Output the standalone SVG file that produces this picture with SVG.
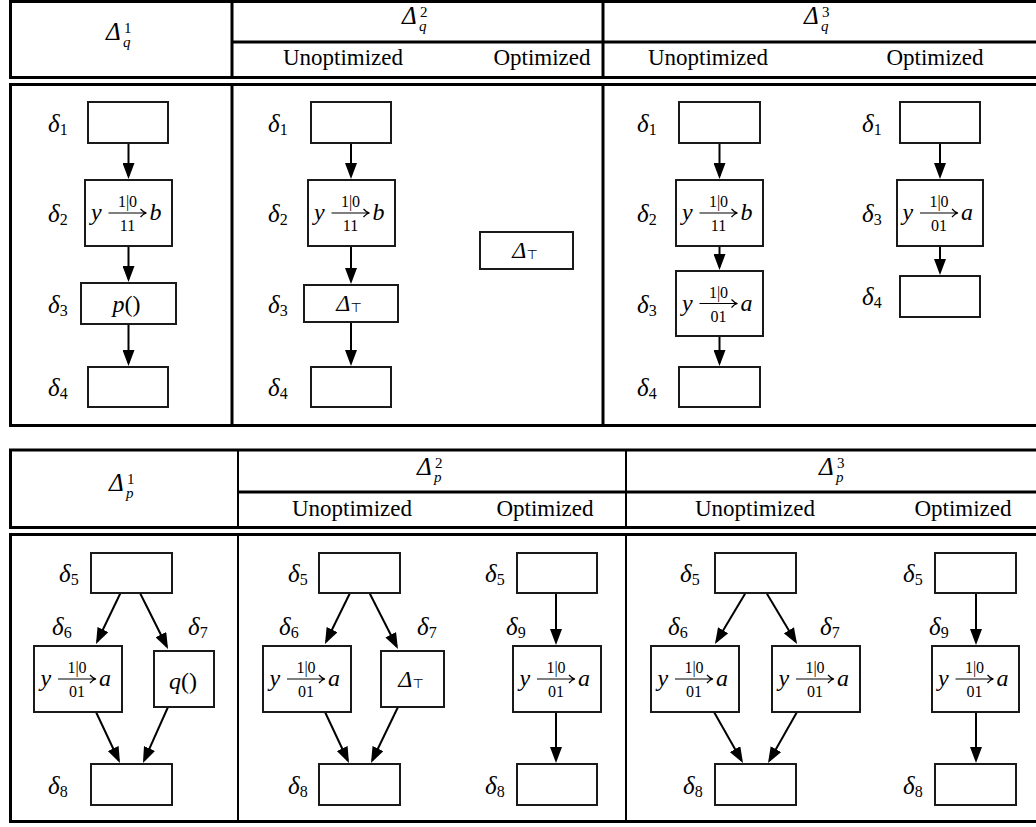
<svg xmlns="http://www.w3.org/2000/svg" xmlns:xlink="http://www.w3.org/1999/xlink" width="1036" height="827" viewBox="0 0 1036 827">
  <style>
    .rule { stroke: #000; stroke-width: 3; fill: none; }
    .rule-thin { stroke: #000; stroke-width: 2; fill: none; }
    .box { fill: #fff; stroke: #1a1a1a; stroke-width: 2; }
    .edge { stroke: #000; stroke-width: 2; fill: none; marker-end: url(#ah); }
    .farrow { stroke: #000; stroke-width: 1.2; fill: none; }
    .txt { font-family: "Liberation Serif", serif; font-size: 23px; fill: #000; }
    .m { font-family: "Liberation Serif", serif; font-style: italic; font-size: 24px; fill: #000; }
    .dl { font-family: "Liberation Serif", serif; font-style: italic; font-size: 25px; fill: #000; }
    .hd { font-family: "Liberation Serif", serif; font-style: italic; font-size: 25px; fill: #000; }
    .sp { font-style: normal; font-size: 15px; }
    .sb { font-style: italic; font-size: 15px; }
    .lab { font-family: "Liberation Serif", serif; font-size: 16px; fill: #000; text-anchor: middle; }
    .sub { font-style: normal; font-size: 16px; }
    .top { font-family: "DejaVu Sans", sans-serif; font-style: normal; font-size: 13px; }
    .mid { text-anchor: middle; }
  </style>
  <defs>
    <marker id="ah" markerUnits="userSpaceOnUse" markerWidth="16" markerHeight="12" refX="13" refY="6" orient="auto">
      <path d="M0,0 L16,6 L0,12 Z" fill="#000"/>
    </marker>
    <!-- labelled arrow used inside transfer nodes -->
    <path id="farrow" class="farrow" d="M-20,0 H17.5 M12,-4 Q15,-0.6 18,0 Q15,0.6 12,4"/>
  </defs>

  <!-- ===== upper table: q ===== -->
  <g id="table-q">
    <line class="rule" x1="9" y1="1.5" x2="1036" y2="1.5"/>
    <line class="rule" x1="232" y1="42" x2="1036" y2="42"/>
    <line class="rule" x1="9" y1="77.5" x2="1036" y2="77.5"/>
    <line class="rule" x1="9" y1="84.5" x2="1036" y2="84.5"/>
    <line class="rule" x1="9" y1="425.5" x2="1036" y2="425.5"/>
    <line class="rule" x1="10.5" y1="0" x2="10.5" y2="77.5"/>
    <line class="rule" x1="10.5" y1="84.5" x2="10.5" y2="425.5"/>
    <line class="rule" x1="232" y1="0" x2="232" y2="77.5"/>
    <line class="rule" x1="232" y1="84.5" x2="232" y2="425.5"/>
    <line class="rule" x1="603" y1="0" x2="603" y2="77.5"/>
    <line class="rule" x1="603" y1="84.5" x2="603" y2="425.5"/>

    <text class="hd" x="106" y="40">Δ<tspan class="sp" x="124" y="33">1</tspan><tspan class="sb" x="123" y="47">q</tspan></text>
    <text class="hd" x="402" y="24">Δ<tspan class="sp" x="420" y="17">2</tspan><tspan class="sb" x="419" y="31">q</tspan></text>
    <text class="hd" x="804" y="24">Δ<tspan class="sp" x="822" y="17">3</tspan><tspan class="sb" x="821" y="31">q</tspan></text>

    <text class="txt mid" x="343" y="65">Unoptimized</text>
    <text class="txt mid" x="542" y="65">Optimized</text>
    <text class="txt mid" x="708" y="65">Unoptimized</text>
    <text class="txt mid" x="935" y="65">Optimized</text>
  </g>

  <!-- ===== lower table: p ===== -->
  <g id="table-p">
    <line class="rule" x1="9" y1="450" x2="1036" y2="450"/>
    <line class="rule" x1="238" y1="492" x2="1036" y2="492"/>
    <line class="rule" x1="9" y1="527.5" x2="1036" y2="527.5"/>
    <line class="rule" x1="9" y1="534.5" x2="1036" y2="534.5"/>
    <line class="rule" x1="9" y1="821.5" x2="1036" y2="821.5"/>
    <line class="rule" x1="10.5" y1="450" x2="10.5" y2="527.5"/>
    <line class="rule" x1="10.5" y1="534.5" x2="10.5" y2="821.5"/>
    <line class="rule-thin" x1="238" y1="450" x2="238" y2="527.5"/>
    <line class="rule-thin" x1="238" y1="534.5" x2="238" y2="821.5"/>
    <line class="rule-thin" x1="626" y1="450" x2="626" y2="527.5"/>
    <line class="rule-thin" x1="626" y1="534.5" x2="626" y2="821.5"/>

    <text class="hd" x="109" y="491">Δ<tspan class="sp" x="127" y="484">1</tspan><tspan class="sb" x="126" y="498">p</tspan></text>
    <text class="hd" x="417" y="475">Δ<tspan class="sp" x="435" y="468">2</tspan><tspan class="sb" x="434" y="482">p</tspan></text>
    <text class="hd" x="819" y="475">Δ<tspan class="sp" x="837" y="468">3</tspan><tspan class="sb" x="836" y="482">p</tspan></text>

    <text class="txt mid" x="352" y="516">Unoptimized</text>
    <text class="txt mid" x="545" y="516">Optimized</text>
    <text class="txt mid" x="755" y="516">Unoptimized</text>
    <text class="txt mid" x="963" y="516">Optimized</text>
  </g>

  <!-- ===== connectors ===== -->
  <g id="connectors">
    <!-- q, column 1 -->
    <line class="edge" x1="128.5" y1="143" x2="128.5" y2="176"/>
    <line class="edge" x1="128.5" y1="246" x2="128.5" y2="279"/>
    <line class="edge" x1="128.5" y1="324" x2="128.5" y2="363"/>
    <!-- q, column 2 unoptimized -->
    <line class="edge" x1="351" y1="143" x2="351" y2="176"/>
    <line class="edge" x1="351" y1="246" x2="351" y2="281"/>
    <line class="edge" x1="351" y1="322" x2="351" y2="363"/>
    <!-- q, column 3 unoptimized -->
    <line class="edge" x1="719.5" y1="143" x2="719.5" y2="176"/>
    <line class="edge" x1="719.5" y1="246" x2="719.5" y2="267"/>
    <line class="edge" x1="719.5" y1="336" x2="719.5" y2="363"/>
    <!-- q, column 3 optimized -->
    <line class="edge" x1="940" y1="143" x2="940" y2="176"/>
    <line class="edge" x1="940" y1="246" x2="940" y2="272"/>

    <!-- p, column 1 -->
    <line class="edge" x1="120.5" y1="593" x2="97.3" y2="641.3"/>
    <line class="edge" x1="140" y1="593" x2="166.7" y2="646.3"/>
    <line class="edge" x1="96" y1="712" x2="118.7" y2="760.3"/>
    <line class="edge" x1="168" y1="707" x2="144.2" y2="760.3"/>
    <!-- p, column 2 unoptimized -->
    <line class="edge" x1="350" y1="593" x2="326.3" y2="641.3"/>
    <line class="edge" x1="369.5" y1="593" x2="396.6" y2="646.3"/>
    <line class="edge" x1="325" y1="712" x2="347.7" y2="760.3"/>
    <line class="edge" x1="398" y1="707" x2="372.3" y2="760.3"/>
    <!-- p, column 2 optimized -->
    <line class="edge" x1="556" y1="593" x2="556" y2="642"/>
    <line class="edge" x1="556" y1="712" x2="556" y2="760"/>
    <!-- p, column 3 unoptimized -->
    <line class="edge" x1="745.5" y1="593" x2="716.5" y2="641.4"/>
    <line class="edge" x1="766.5" y1="593" x2="795.5" y2="641.4"/>
    <line class="edge" x1="714" y1="712" x2="741.5" y2="760.4"/>
    <line class="edge" x1="797" y1="712" x2="769.5" y2="760.4"/>
    <!-- p, column 3 optimized -->
    <line class="edge" x1="976" y1="593" x2="976" y2="642"/>
    <line class="edge" x1="976" y1="712" x2="976" y2="760"/>
  </g>

  <!-- ===== q, column 1 ===== -->
  <g id="q1-d1">
    <rect class="box" x="88" y="102" width="80" height="41"/>
    <text class="dl" x="48" y="132">δ<tspan class="sub" dy="3">1</tspan></text>
  </g>
  <g id="q1-d2">
    <rect class="box" x="85" y="180" width="87" height="66"/>
    <text class="dl" x="48" y="222">δ<tspan class="sub" dy="3">2</tspan></text>
    <text class="m" x="91" y="220">y</text>
    <use xlink:href="#farrow" x="128.5" y="213"/>
    <text class="lab" x="127.5" y="207">1|0</text>
    <text class="lab" x="127.5" y="231">11</text>
    <text class="m" x="149.5" y="220">b</text>
  </g>
  <g id="q1-d3">
    <rect class="box" x="81" y="283" width="95" height="41"/>
    <text class="dl" x="48" y="313">δ<tspan class="sub" dy="3">3</tspan></text>
    <text class="m mid" x="126.5" y="312">p<tspan font-style="normal">()</tspan></text>
  </g>
  <g id="q1-d4">
    <rect class="box" x="88" y="367" width="80" height="40"/>
    <text class="dl" x="48" y="396">δ<tspan class="sub" dy="3">4</tspan></text>
  </g>

  <!-- ===== q, column 2 unoptimized ===== -->
  <g id="q2u-d1">
    <rect class="box" x="311" y="102" width="80" height="41"/>
    <text class="dl" x="268" y="132">δ<tspan class="sub" dy="3">1</tspan></text>
  </g>
  <g id="q2u-d2">
    <rect class="box" x="308" y="180" width="87" height="66"/>
    <text class="dl" x="268" y="222">δ<tspan class="sub" dy="3">2</tspan></text>
    <text class="m" x="314" y="220">y</text>
    <use xlink:href="#farrow" x="351.5" y="213"/>
    <text class="lab" x="350.5" y="207">1|0</text>
    <text class="lab" x="350.5" y="231">11</text>
    <text class="m" x="372.5" y="220">b</text>
  </g>
  <g id="q2u-d3">
    <rect class="box" x="304" y="285" width="94" height="37"/>
    <text class="dl" x="268" y="313">δ<tspan class="sub" dy="3">3</tspan></text>
    <text class="m mid" x="349" y="310.5">Δ<tspan class="top" dy="1">⊤</tspan></text>
  </g>
  <g id="q2u-d4">
    <rect class="box" x="311" y="367" width="80" height="40"/>
    <text class="dl" x="268" y="396">δ<tspan class="sub" dy="3">4</tspan></text>
  </g>

  <!-- ===== q, column 2 optimized ===== -->
  <g id="q2o-top">
    <rect class="box" x="480" y="232" width="93" height="37"/>
    <text class="m mid" x="525" y="257.5">Δ<tspan class="top" dy="1">⊤</tspan></text>
  </g>

  <!-- ===== q, column 3 unoptimized ===== -->
  <g id="q3u-d1">
    <rect class="box" x="679" y="102" width="81" height="41"/>
    <text class="dl" x="637" y="132">δ<tspan class="sub" dy="3">1</tspan></text>
  </g>
  <g id="q3u-d2">
    <rect class="box" x="676" y="180" width="87" height="66"/>
    <text class="dl" x="637" y="222">δ<tspan class="sub" dy="3">2</tspan></text>
    <text class="m" x="682" y="220">y</text>
    <use xlink:href="#farrow" x="719.5" y="213"/>
    <text class="lab" x="718.5" y="207">1|0</text>
    <text class="lab" x="718.5" y="231">11</text>
    <text class="m" x="740.5" y="220">b</text>
  </g>
  <g id="q3u-d3">
    <rect class="box" x="676" y="271" width="87" height="65"/>
    <text class="dl" x="637" y="313">δ<tspan class="sub" dy="3">3</tspan></text>
    <text class="m" x="682" y="310.5">y</text>
    <use xlink:href="#farrow" x="719.5" y="303.5"/>
    <text class="lab" x="718.5" y="297.5">1|0</text>
    <text class="lab" x="718.5" y="321.5">01</text>
    <text class="m" x="740.5" y="310.5">a</text>
  </g>
  <g id="q3u-d4">
    <rect class="box" x="679" y="367" width="81" height="40"/>
    <text class="dl" x="637" y="396">δ<tspan class="sub" dy="3">4</tspan></text>
  </g>

  <!-- ===== q, column 3 optimized ===== -->
  <g id="q3o-d1">
    <rect class="box" x="900" y="102" width="80" height="41"/>
    <text class="dl" x="862" y="132">δ<tspan class="sub" dy="3">1</tspan></text>
  </g>
  <g id="q3o-d3">
    <rect class="box" x="897" y="180" width="86" height="66"/>
    <text class="dl" x="862" y="222">δ<tspan class="sub" dy="3">3</tspan></text>
    <text class="m" x="902.5" y="220">y</text>
    <use xlink:href="#farrow" x="940" y="213"/>
    <text class="lab" x="939" y="207">1|0</text>
    <text class="lab" x="939" y="231">01</text>
    <text class="m" x="961" y="220">a</text>
  </g>
  <g id="q3o-d4">
    <rect class="box" x="900" y="276" width="80" height="41"/>
    <text class="dl" x="862" y="305">δ<tspan class="sub" dy="3">4</tspan></text>
  </g>

  <!-- ===== p, column 1 ===== -->
  <g id="p1-d5">
    <rect class="box" x="91" y="553" width="81" height="40"/>
    <text class="dl" x="59" y="582">δ<tspan class="sub" dy="3">5</tspan></text>
  </g>
  <g id="p1-d6">
    <rect class="box" x="34" y="646" width="88" height="66"/>
    <text class="dl" x="52" y="635">δ<tspan class="sub" dy="3">6</tspan></text>
    <text class="m" x="40.5" y="686">y</text>
    <use xlink:href="#farrow" x="78" y="679"/>
    <text class="lab" x="77" y="673">1|0</text>
    <text class="lab" x="77" y="697">01</text>
    <text class="m" x="99" y="686">a</text>
  </g>
  <g id="p1-d7">
    <rect class="box" x="154" y="651" width="60" height="56"/>
    <text class="dl" x="188" y="635">δ<tspan class="sub" dy="3">7</tspan></text>
    <text class="m mid" x="183" y="689">q<tspan font-style="normal">()</tspan></text>
  </g>
  <g id="p1-d8">
    <rect class="box" x="91" y="764" width="81" height="41"/>
    <text class="dl" x="48" y="794">δ<tspan class="sub" dy="3">8</tspan></text>
  </g>

  <!-- ===== p, column 2 unoptimized ===== -->
  <g id="p2u-d5">
    <rect class="box" x="319" y="553" width="81" height="40"/>
    <text class="dl" x="288" y="582">δ<tspan class="sub" dy="3">5</tspan></text>
  </g>
  <g id="p2u-d6">
    <rect class="box" x="263" y="646" width="88" height="66"/>
    <text class="dl" x="279" y="635">δ<tspan class="sub" dy="3">6</tspan></text>
    <text class="m" x="269.5" y="686">y</text>
    <use xlink:href="#farrow" x="307" y="679"/>
    <text class="lab" x="306" y="673">1|0</text>
    <text class="lab" x="306" y="697">01</text>
    <text class="m" x="328" y="686">a</text>
  </g>
  <g id="p2u-d7">
    <rect class="box" x="381" y="651" width="63" height="56"/>
    <text class="dl" x="417" y="635">δ<tspan class="sub" dy="3">7</tspan></text>
    <text class="m mid" x="411" y="687">Δ<tspan class="top" dy="1">⊤</tspan></text>
  </g>
  <g id="p2u-d8">
    <rect class="box" x="319" y="764" width="81" height="41"/>
    <text class="dl" x="288" y="794">δ<tspan class="sub" dy="3">8</tspan></text>
  </g>

  <!-- ===== p, column 2 optimized ===== -->
  <g id="p2o-d5">
    <rect class="box" x="517" y="553" width="80" height="40"/>
    <text class="dl" x="485" y="582">δ<tspan class="sub" dy="3">5</tspan></text>
  </g>
  <g id="p2o-d9">
    <rect class="box" x="513" y="646" width="88" height="66"/>
    <text class="dl" x="506" y="635">δ<tspan class="sub" dy="3">9</tspan></text>
    <text class="m" x="519.5" y="686">y</text>
    <use xlink:href="#farrow" x="557" y="679"/>
    <text class="lab" x="556" y="673">1|0</text>
    <text class="lab" x="556" y="697">01</text>
    <text class="m" x="578" y="686">a</text>
  </g>
  <g id="p2o-d8">
    <rect class="box" x="517" y="764" width="80" height="41"/>
    <text class="dl" x="485" y="794">δ<tspan class="sub" dy="3">8</tspan></text>
  </g>

  <!-- ===== p, column 3 unoptimized ===== -->
  <g id="p3u-d5">
    <rect class="box" x="715" y="553" width="81" height="40"/>
    <text class="dl" x="680" y="582">δ<tspan class="sub" dy="3">5</tspan></text>
  </g>
  <g id="p3u-d6">
    <rect class="box" x="651" y="646" width="88" height="66"/>
    <text class="dl" x="668" y="635">δ<tspan class="sub" dy="3">6</tspan></text>
    <text class="m" x="657.5" y="686">y</text>
    <use xlink:href="#farrow" x="695" y="679"/>
    <text class="lab" x="694" y="673">1|0</text>
    <text class="lab" x="694" y="697">01</text>
    <text class="m" x="716" y="686">a</text>
  </g>
  <g id="p3u-d7">
    <rect class="box" x="772" y="646" width="88" height="66"/>
    <text class="dl" x="820" y="635">δ<tspan class="sub" dy="3">7</tspan></text>
    <text class="m" x="778.5" y="686">y</text>
    <use xlink:href="#farrow" x="816" y="679"/>
    <text class="lab" x="815" y="673">1|0</text>
    <text class="lab" x="815" y="697">01</text>
    <text class="m" x="837" y="686">a</text>
  </g>
  <g id="p3u-d8">
    <rect class="box" x="715" y="764" width="81" height="41"/>
    <text class="dl" x="683" y="794">δ<tspan class="sub" dy="3">8</tspan></text>
  </g>

  <!-- ===== p, column 3 optimized ===== -->
  <g id="p3o-d5">
    <rect class="box" x="935" y="553" width="81" height="40"/>
    <text class="dl" x="903" y="582">δ<tspan class="sub" dy="3">5</tspan></text>
  </g>
  <g id="p3o-d9">
    <rect class="box" x="932" y="646" width="87" height="66"/>
    <text class="dl" x="929" y="635">δ<tspan class="sub" dy="3">9</tspan></text>
    <text class="m" x="938" y="686">y</text>
    <use xlink:href="#farrow" x="975.5" y="679"/>
    <text class="lab" x="974.5" y="673">1|0</text>
    <text class="lab" x="974.5" y="697">01</text>
    <text class="m" x="996.5" y="686">a</text>
  </g>
  <g id="p3o-d8">
    <rect class="box" x="935" y="764" width="81" height="41"/>
    <text class="dl" x="903" y="794">δ<tspan class="sub" dy="3">8</tspan></text>
  </g>
</svg>
